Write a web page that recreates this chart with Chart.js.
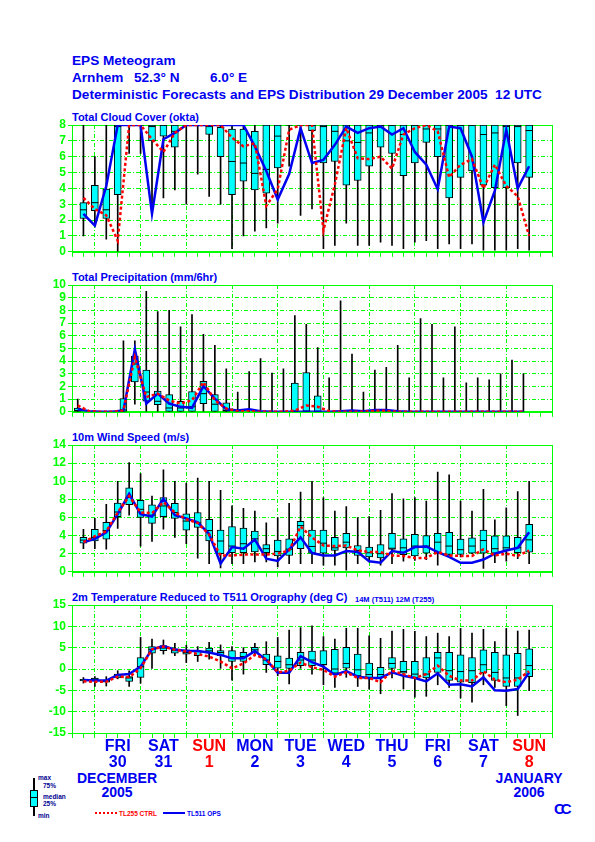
<!DOCTYPE html>
<html><head><meta charset="utf-8">
<script src="https://cdn.jsdelivr.net/npm/chart.js@4.4.1/dist/chart.umd.min.js"></script>
<style>
html,body{margin:0;padding:0;background:#fff;}
body{width:595px;height:842px;position:relative;overflow:hidden;font-family:"Liberation Sans",Arial,sans-serif;}
.t{position:absolute;color:#0000f0;font-weight:bold;white-space:pre;line-height:1;}
.c{transform:translateX(-50%);}
canvas{position:absolute;left:0;}
.lg{position:absolute;color:#000090;font-weight:bold;font-size:6.5px;line-height:1;white-space:pre;}
</style></head><body>
<div class="t" style="left:72px;top:54px;font-size:13.6px">EPS Meteogram</div>
<div class="t" style="left:72px;top:71px;font-size:13.6px">Arnhem</div>
<div class="t" style="left:134px;top:71px;font-size:13.6px">52.3° N</div>
<div class="t" style="left:210px;top:71px;font-size:13.6px">6.0° E</div>
<div class="t" style="left:72px;top:88px;font-size:13.6px">Deterministic Forecasts and EPS Distribution 29 December 2005  12 UTC</div>

<div class="t" style="left:72px;top:112.3px;font-size:11px">Total Cloud Cover (okta)</div>
<div class="t" style="left:72px;top:272.3px;font-size:11px">Total Precipitation (mm/6hr)</div>
<div class="t" style="left:72px;top:432.3px;font-size:11px">10m Wind Speed (m/s)</div>
<div class="t" style="left:72px;top:592.3px;font-size:11px">2m Temperature Reduced to T511 Orography (deg C)</div>
<div class="t" style="left:355px;top:596.3px;font-size:7.5px">14M (T511) 12M (T255)</div>

<div class="t c" style="left:117px;top:771px;font-size:14px">DECEMBER</div>
<div class="t c" style="left:117px;top:785px;font-size:14px">2005</div>
<div class="t c" style="left:529px;top:771px;font-size:14px">JANUARY</div>
<div class="t c" style="left:529px;top:785px;font-size:14px">2006</div>

<div style="position:absolute;left:32.5px;top:778px;width:2px;height:38px;background:#000;"></div>
<div style="position:absolute;left:30px;top:790px;width:6px;height:15px;background:#00ffff;border:1px solid #000;"></div>
<div style="position:absolute;left:31px;top:796.5px;width:6px;height:1px;background:#000;"></div>
<div class="lg" style="left:38px;top:775px">max</div>
<div class="lg" style="left:43px;top:783px">75%</div>
<div class="lg" style="left:43px;top:793.5px">median</div>
<div class="lg" style="left:43px;top:801px">25%</div>
<div class="lg" style="left:38px;top:812.5px">min</div>
<div style="position:absolute;left:95px;top:812px;width:22px;height:0;border-top:2px dotted #ff0000;"></div>
<div class="lg" style="left:119px;top:810.5px;color:#ff0000">TL255 CTRL</div>
<div style="position:absolute;left:163px;top:812px;width:22px;height:2px;background:#0000f0;"></div>
<div class="lg" style="left:187px;top:810.5px;color:#0000f0">TL511 OPS</div>
<div class="t" style="left:554px;top:801px;font-size:15px;letter-spacing:-4px;font-weight:900">CC</div>

<script>
// ---------- time axis (6-hour steps since 29 Dec 2005 12 UTC) ----------
const steps = [1,2,3,4,5,6,7,8,9,10,11,12,13,14,15,16,17,18,19,20,21,22,23,24,25,26,27,28,29,30,31,32,33,34,35,36,37,38,39,40];
const precipSteps = [0.5,1.5,2.5,3.5,4.5,5.5,6.5,7.5,8.5,9.5,10.5,11.5,12.5,13.5,14.5,15.5,16.5,17.5,18.5,19.5,20.5,21.5,22.5,23.5,24.5,25.5,26.5,27.5,28.5,29.5,30.5,31.5,32.5,33.5,34.5,35.5,36.5,37.5,38.5,39.5];
const dayTicks = [4,8,12,16,20,24,28,32,36,40];
const dayNames = ['FRI','SAT','SUN','MON','TUE','WED','THU','FRI','SAT','SUN'];
const dayNums = ['30','31','1','2','3','4','5','6','7','8'];

// ---------- Total cloud cover (okta) ----------
const cloudMin = [1.0,1.7,0.8,0.0,6.2,6.2,2.5,3.4,3.9,3.0,4.9,3.5,3.0,0.2,1.0,1.3,1.5,1.8,5.4,2.3,2.7,0.2,0.4,1.8,0.4,0.4,0.6,0.4,0.2,0.6,0.7,0.2,0.5,0.2,0.5,0.1,0.1,0.1,0.2,0.1];
const cloudQ1  = [2.1,2.6,2.1,3.6,8,8,7.0,7.3,6.6,8,8,7.4,6.0,3.6,4.45,3.9,3.7,5.3,8,8,7.65,5.6,5.7,4.2,4.5,5.4,6.6,6.2,4.8,5.6,6.9,6.0,3.4,4.7,5.1,4.2,4.05,4.05,5.6,4.7];
const cloudMed = [2.65,3.1,2.65,7.9,8,8,7.9,8,7.6,8,8,7.9,7.85,5.7,5.6,4.95,5.2,7.3,8,8,8,7.9,7.6,7.0,6.9,7.5,8,8,7.4,8,7.75,7.75,8,8,8,7.4,7.5,7.9,7.9,7.65];
const cloudQ3  = [3.1,4.2,3.95,8,8,8,8,8,8,8,8,8,7.85,7.75,7.75,7.6,8,8,8,8,8,8,8,8,8,8,8,8,8,8,8,8,8,8,8,8,8,8,8,8];
const cloudMax = [8,6.0,8,8,8,8,8,8,8,8,8,8,8,8,8,8,8,8,8,8,8,8,8,8,8,8,8,8,8,8,8,8,8,8,8,8,8,8,8,8];
const cloudCtrl = [3.4,2.7,2.3,0.7,8,8,7.1,6.3,7.5,8,8,8,8,7.2,6.65,6.85,2.9,3.95,7.7,8,8,1.35,4.25,7.8,5.9,5.85,6.0,5.25,7.4,7.8,8,7.6,4.7,5.5,5.85,4.0,5.5,4.15,3.5,1.0];
const cloudOps  = [2.4,1.65,4.15,8,8,8,2.4,7.1,7.5,8,8,8,8,8,8,6.65,5.1,3.3,4.9,7.8,5.6,5.8,6.75,7.9,7.5,7.8,7.9,7.4,7.8,6.3,5.5,3.95,7.9,7.8,6.0,1.85,3.85,7.7,4.0,5.4];

// ---------- Total precipitation (mm/6hr) ----------
const precMin = [0,0,0,0,0,0.6,0,0,0,0,0,0,0,0,0,0,0,0,0,0,0,0,0,0,0,0,0,0,0,0,0,0,0,0,0,0,0,0,0,0];
const precQ1  = [0,0,0,0,0,2.35,0.83,0.57,0,0,0,0.65,0,0,0,0,0,0,0,0,0,0,0,0,0,0,0,0,0,0,0,0,0,0,0,0,0,0,0,0];
const precMed = [0.1,0,0,0,0.15,3.77,1.56,0.83,0.3,0.3,0.4,1.43,0.6,0.1,0,0,0,0,0,0.05,0.05,0,0,0,0,0,0,0,0,0,0,0,0,0,0,0,0,0,0,0];
const precQ3  = [0.3,0,0,0,1.05,4.4,3.3,1.64,1.35,0.83,1.6,2.4,1.35,0.7,0,0,0,0,0,2.26,3.1,1.25,0,0,0,0,0,0,0,0,0,0,0,0,0,0,0,0,0,0];
const precMax = [1.0,0,0,0,5.6,5.6,9.5,7.9,8.0,6.7,7.66,6.1,5.25,3.38,1.56,3.17,4.2,3.06,3.38,7.58,6.9,5.06,2.68,8.75,4.55,1.56,3.3,3.5,5.25,2.68,7.35,6.9,2.68,6.7,2.29,2.68,2.52,3.0,4.08,3.0];
const precCtrl = [0.5,0.05,0,0,0.1,4.3,1.17,1.43,0.9,0.65,0.9,2.34,0.9,0.26,0.05,0.05,0,0,0,0.1,0.5,0.4,0.05,0,0,0,0.08,0.08,0,0,0,0,0,0,0,0,0,0,0,0];
const precOps  = [0.2,0.05,0,0,0.1,4.94,0.65,1.43,0.65,0.39,0.31,2.03,1.04,0.2,0.1,0.2,0.05,0,0,0,0,0,0,0.05,0.1,0.05,0.15,0.15,0.05,0,0,0,0,0,0,0,0,0,0,0];

// ---------- 10m wind speed (m/s) ----------
const windMin = [2.55,2.55,2.5,4.8,6.25,2.84,3.35,4.7,3.8,3.1,1.5,0.9,0.44,0.9,0.9,1.1,1.1,0.55,0.9,0.9,0.9,0.73,0.73,0.18,0.9,1.1,0.73,0.9,1.16,1.27,1.35,0.73,1.8,1.64,2.0,0.36,1.0,1.16,1.45,0.9];
const windQ1  = [3.16,3.4,3.6,6.1,7.4,6.0,5.35,6.1,5.9,4.6,4.9,3.4,2.0,2.1,2.1,2.2,2.1,1.75,1.8,2.55,2.07,2.07,2.36,2.65,1.8,1.64,1.53,2.47,1.9,1.75,2.07,2.07,1.93,1.93,2.07,2.07,2.07,2.36,2.1,2.18];
const windMed = [3.5,3.8,4.55,6.6,8.2,6.9,6.25,7.27,6.55,5.6,5.4,4.55,3.4,2.84,3.1,3.64,2.55,2.25,2.5,5.1,2.8,3.16,2.65,3.27,2.36,2.1,2.0,2.6,2.65,2.84,2.84,3.27,2.84,2.44,2.84,3.45,2.55,2.65,2.65,3.53];
const windQ3  = [3.8,4.7,5.45,7.6,9.27,7.9,7.4,8.2,7.56,6.4,6.55,5.8,4.6,5.0,4.84,4.5,3.0,3.5,3.64,5.56,4.6,4.6,3.8,4.25,2.9,2.73,3.0,4.25,3.64,4.15,4.0,4.25,4.36,3.6,3.75,4.6,3.96,3.96,3.8,5.24];
const windMax = [4.7,5.9,7.45,10.0,12.07,10.84,8.36,11.27,10.0,9.8,10.36,10.0,9.0,7.27,7.0,6.7,5.4,6.0,7.56,8.8,10.0,8.2,6.7,7.2,6.0,6.1,6.8,8.65,8.07,8.2,7.8,11.0,10.7,7.8,6.7,9.1,5.75,7.05,8.87,10.0];
const windCtrl = [3.27,3.93,4.47,6.55,8.36,6.55,6.47,7.7,6.55,5.8,5.4,4.1,1.8,1.8,1.9,1.9,1.9,2.0,2.36,5.0,3.8,2.9,2.84,2.9,2.36,2.18,2.18,1.8,1.75,1.53,1.53,2.18,1.8,1.75,1.75,2.47,1.8,2.0,1.75,2.36];
const windOps  = [3.27,3.64,4.36,6.36,8.6,6.36,6.1,8.07,6.25,5.9,5.45,4.18,0.9,2.73,2.55,3.56,1.45,1.2,2.47,3.8,2.07,1.8,1.8,2.3,2.18,1.16,1.0,2.3,2.1,2.73,2.8,2.18,1.64,1.0,1.0,1.35,2.0,2.36,2.65,4.36];

// ---------- 2m temperature (deg C) ----------
const tempMin = [-3.3,-4.1,-4.0,-2.3,-4.1,-3.35,0,3.5,3.1,1.5,1.76,2.3,0.15,-2.6,-1.2,3.1,-0.8,-1.6,-3.5,0.15,-1.2,-3.7,-4.3,-1.95,-4.1,-4.7,-5.8,-2.1,-4.7,-6.6,-6.4,-3.7,-4.3,-6.8,-7.8,-3.7,-4.3,-8.6,-10.9,-5.1];
const tempQ1  = [-2.8,-2.7,-3.1,-2.1,-2.9,-1.95,3.7,4.3,3.7,3.5,3.1,3.7,3.15,1.76,1.76,3.9,1.0,0.2,0,0.8,0.8,1.0,-1.0,0.2,-1.6,-2.1,-2.1,0,-1.0,-2.1,-2.1,-0.8,-2.7,-3.1,-3.2,-0.9,-2.7,-4.1,-4.1,-1.8];
const tempMed = [-2.6,-2.4,-2.8,-1.6,-2.1,0.55,4.6,4.9,4.3,3.86,4.1,4.25,3.86,2.54,2.9,4.5,2.1,1.76,1.0,2.1,2.1,1.0,0,1.3,-0.2,-1.3,-1.3,1.3,-0.6,-1.2,-1.2,2.6,-0.4,-0.6,-0.4,1.0,-0.8,-2.1,-2.1,0.8];
const tempQ3  = [-2.4,-2.1,-2.6,-1.2,-1.8,2.7,5.26,5.5,4.7,4.5,4.3,4.9,4.3,4.3,3.9,5.1,3.5,3.1,2.54,3.9,4.2,4.3,4.6,5.1,3.5,1.4,0.4,2.7,1.8,1.8,2.7,3.9,3.9,3.3,2.7,4.5,3.9,3.3,3.7,4.7];
const tempMax = [-2.0,-1.8,-1.8,-0.4,-0.4,7.4,7.0,6.8,6.04,5.57,5.26,6.27,5.65,5.26,5.0,6.04,6.4,7.4,9.15,9.7,10.1,7.6,7.0,9.55,9.55,7.8,7.2,8.9,9.3,8.8,7.6,8.4,7.6,9.5,8.4,9.3,6.4,9.5,8.9,9.15];
const tempCtrl = [-2.9,-3.0,-3.0,-1.8,-1.9,0.15,4.6,5.26,4.5,4.1,3.5,2.9,1.76,0.15,1.3,3.3,2.3,-0.8,-0.4,1.5,0.4,-0.2,-1.8,-0.8,-2.1,-2.1,-3.1,-0.4,-1.2,-2.1,-1.2,0.8,-1.6,-2.7,-2.7,-0.5,-2.5,-3.1,-2.5,-0.5];
const tempOps  = [-2.6,-2.7,-2.7,-1.4,-1.2,0.55,4.6,5.4,4.6,4.2,4.2,3.86,3.3,2.5,2.5,4.2,2.1,-0.9,-0.9,3.0,1.6,0.55,-1.4,-0.5,-1.8,-2.1,-2.1,-0.8,-1.6,-2.1,-2.9,-1.0,-3.7,-3.6,-4.1,-1.95,-5.0,-5.1,-4.7,-0.8];

// ---------- drawing ----------
const GREEN = '#00ff00', BLUE = '#0000f0', RED = '#ff0000', CYAN = '#00ffff';
const FONT = '"Liberation Sans", Arial, sans-serif';
const DASH = [4, 2, 1, 2];

const framePlugin = {
  id: 'frame',
  beforeDatasetsDraw(chart) {
    const {ctx, chartArea: a} = chart;
    ctx.save();
    ctx.strokeStyle = GREEN; ctx.lineWidth = 1;
    ctx.strokeRect(Math.round(a.left) + 0.5, Math.round(a.top) + 0.5, Math.round(a.right - a.left), Math.round(a.bottom - a.top));
    ctx.restore();
  }
};

function panel(top, xH, yMin, yMax, yStep, t, mn, q1, md, q3, mx, ctrl, ops, last) {
  const PADTOP = 10, PLOT = 128;
  const cv = document.createElement('canvas');
  cv.width = 595; cv.height = PADTOP + PLOT + xH;
  cv.style.top = (top - PADTOP) + 'px';
  document.body.appendChild(cv);
  const pts = arr => t.map((x, i) => ({x, y: arr[i]}));
  const rng = (a, b) => t.map((x, i) => ({x, y: [a[i], b[i]]})).filter(d => d.y[1] > d.y[0]);
  const meds = t.map((x, i) => ({x, y: md[i]})).filter((d, i) => q3[i] > q1[i] || q3[i] !== 0);
  new Chart(cv, {
    type: 'bar',
    data: {
      datasets: [
        {type: 'line', label: 'TL255 CTRL', data: pts(ctrl), borderColor: RED, borderWidth: 2.5, borderDash: [3, 2.5], pointRadius: 0, tension: 0, order: 0},
        {type: 'line', label: 'TL511 OPS', data: pts(ops), borderColor: BLUE, borderWidth: 2.5, pointRadius: 0, tension: 0, order: 1},
        {type: 'line', label: 'median', data: meds, showLine: false, pointStyle: 'line', pointRadius: 3.5, borderColor: '#000', borderWidth: 1, order: 2},
        {type: 'bar', label: '25-75%', data: rng(q1, q3), backgroundColor: CYAN, borderColor: '#000', borderWidth: 1, borderSkipped: false, barThickness: 7, grouped: false, order: 3},
        {type: 'bar', label: 'min-max', data: rng(mn, mx), backgroundColor: '#000', borderWidth: 0, barThickness: 1, grouped: false, order: 4}
      ]
    },
    options: {
      animation: false, responsive: false, events: [],
      layout: {padding: {left: 0, right: 43, top: PADTOP, bottom: 0}},
      plugins: {legend: {display: false}, tooltip: {enabled: false}},
      scales: {
        x: {
          type: 'linear', min: 0, max: 42, offset: false,
          afterFit: s => { s.height = xH; },
          grid: {offset: false, color: c => (c.tick && c.tick.value % 4 === 2) ? GREEN : 'rgba(0,0,0,0)',
                 lineWidth: 1, drawTicks: true, tickLength: 5, tickColor: GREEN, tickWidth: 1},
          border: {display: true, color: GREEN, width: 1, dash: DASH},
          ticks: {
            stepSize: 1, autoSkip: false, maxRotation: 0, minRotation: 0, display: last, padding: 0,
            callback: v => { const k = dayTicks.indexOf(v); return k >= 0 ? [dayNames[k], dayNums[k]] : ''; },
            color: c => { const k = dayTicks.indexOf(c.tick ? c.tick.value : -1); return (k >= 0 && dayNames[k] === 'SUN') ? RED : BLUE; },
            font: {family: FONT, weight: 'bold', size: 16, lineHeight: 1.04}
          }
        },
        y: {
          min: yMin, max: yMax,
          afterFit: s => { s.width = 72; },
          grid: {color: GREEN, lineWidth: 1, tickLength: 4, tickColor: GREEN},
          border: {display: true, color: GREEN, width: 1, dash: DASH},
          ticks: {stepSize: yStep, autoSkip: false, color: GREEN, padding: 2, font: {family: FONT, weight: 'bold', size: 12}}
        }
      }
    },
    plugins: [framePlugin]
  });
}

panel(125, 8, 0, 8, 1, steps, cloudMin, cloudQ1, cloudMed, cloudQ3, cloudMax, cloudCtrl, cloudOps, false);
panel(285, 8, 0, 10, 1, precipSteps, precMin, precQ1, precMed, precQ3, precMax, precCtrl, precOps, false);
panel(445, 8, 0, 14, 2, steps, windMin, windQ1, windMed, windQ3, windMax, windCtrl, windOps, false);
panel(605, 60, -15, 15, 5, steps, tempMin, tempQ1, tempMed, tempQ3, tempMax, tempCtrl, tempOps, true);
</script>
</body></html>
